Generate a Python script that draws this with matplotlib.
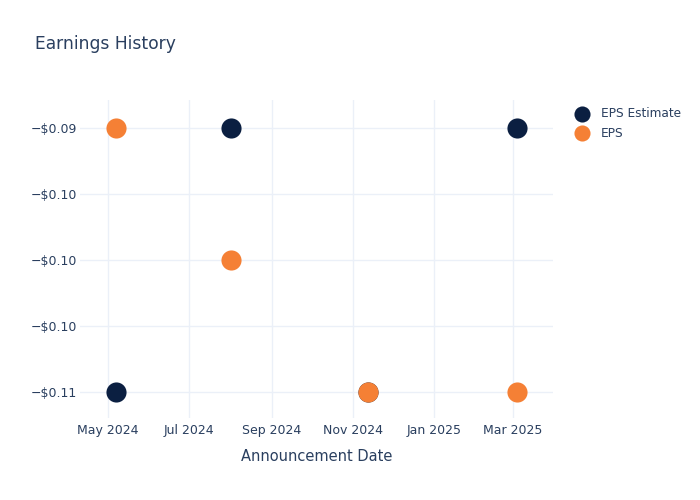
import matplotlib
matplotlib.use("Agg")
import matplotlib.pyplot as plt
import matplotlib.dates as mdates
from matplotlib.ticker import FuncFormatter, FixedLocator
import pandas as pd

plt.rcParams["font.family"] = ["DejaVu Sans"]

# 数据
dates = ["2024-05-07", "2024-08-01", "2024-11-12", "2025-03-04"]
eps_estimate = [-0.11, -0.09, -0.11, -0.09]
eps_actual = [-0.09, -0.10, -0.11, -0.11]
y_ticks = [-0.09, -0.095, -0.10, -0.105, -0.11]
x_tick_dates = ["2024-05-01", "2024-07-01", "2024-09-01", "2024-11-01", "2025-01-01", "2025-03-01"]

navy = "#0b1f41"
orange = "#f58035"
text_color = "#2a3f5f"
grid_color = "#ebf0f8"

x = pd.to_datetime(dates)

fig = plt.figure(figsize=(7, 5), dpi=100)
ax = fig.add_axes([80 / 700, 82 / 500, 473 / 700, 318 / 500])

ax.scatter(x, eps_estimate, s=210, color=navy, label="EPS Estimate", zorder=3, linewidths=0)
ax.scatter(x, eps_actual, s=210, color=orange, label="EPS", zorder=4, linewidths=0)

ax.set_xlim(pd.Timestamp("2024-04-10"), pd.Timestamp("2025-03-31"))
ax.set_ylim(-0.11200, -0.08785)

ax.xaxis.set_major_locator(FixedLocator(mdates.date2num(pd.to_datetime(x_tick_dates))))
ax.xaxis.set_major_formatter(mdates.DateFormatter("%b %Y"))
ax.yaxis.set_major_locator(FixedLocator(y_ticks))
ax.yaxis.set_major_formatter(FuncFormatter(lambda v, p: "\u2212$%.2f" % abs(v)))

for s in ax.spines.values():
    s.set_visible(False)
ax.grid(True, color=grid_color, linewidth=1)
ax.set_axisbelow(True)
ax.tick_params(axis="both", length=0, labelsize=9, labelcolor=text_color)
ax.tick_params(axis="x", pad=4)
ax.tick_params(axis="y", pad=2)

ax.set_xlabel("Announcement Date", fontsize=10.5, color=text_color, labelpad=9)

fig.text(35 / 700, 1 - 44 / 500, "Earnings History", fontsize=12.3, color=text_color,
         ha="left", va="center")

leg = ax.legend(loc="upper left", bbox_to_anchor=(570 / 700, 1 - 107 / 500),
                bbox_transform=fig.transFigure, frameon=False, fontsize=8.7,
                markerscale=0.8, handletextpad=0.55, labelspacing=0.55,
                borderaxespad=0, borderpad=0)
for t in leg.get_texts():
    t.set_color(text_color)

fig.savefig("out.png", dpi=100)
